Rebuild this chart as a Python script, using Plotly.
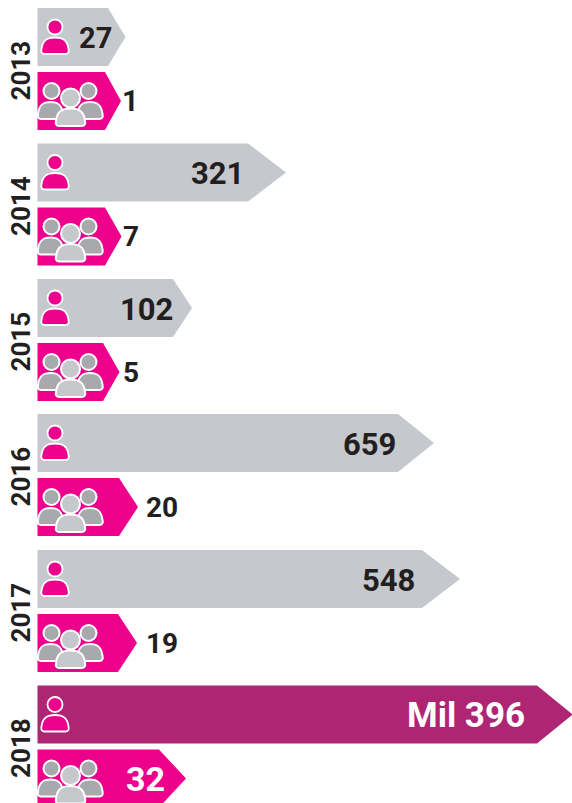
import plotly.graph_objects as go

years = ["2013", "2014", "2015", "2016", "2017", "2018"]
individual_labels = ["27", "321", "102", "659", "548", "Mil 396"]
group_labels = ["1", "7", "5", "20", "19", "32"]
# Drawn lengths (the original graphic is not to linear scale)
individual_tip = [125.5, 286, 192, 434, 460, 572.5]
individual_shoulder = [108, 248, 173, 398, 422, 537]
group_tip = [121, 121.5, 119.5, 138, 137, 186]
group_shoulder = [105, 105, 103, 119, 118, 159]
individual_text_x = [95, 217, 146, 369, 388, 466]
group_text_x = [130.5, 131, 131, 162, 162, 145]
individual_text_size = [29, 31, 31, 31, 31, 35]
group_text_size = [29, 28, 28, 28, 28, 34]

GREY, PINK, PURPLE = "#C5C8CC", "#EC008C", "#AE2573"
DARK, MID, LIGHT = "#231F20", "#A7A9AC", "#C6C8CC"
LEFT, H = 37.5, 58
TOPS = [8, 143.5, 279, 414, 550, 685.5]
GROUP_OFFSET = 64

fig = go.Figure()


def arrow(top, shoulder, tip, color):
    xs = [LEFT, shoulder, tip, shoulder, LEFT, LEFT]
    ys = [top, top, top + H / 2, top + H, top + H, top]
    fig.add_trace(go.Scatter(x=xs, y=ys, mode="lines", fill="toself", fillcolor=color,
                             line=dict(width=0, color=color), hoverinfo="skip", showlegend=False))


shapes = []


def circle(cx, cy, r, fill, lw=1.8):
    shapes.append(dict(type="circle", xref="x", yref="y", x0=cx - r, x1=cx + r, y0=cy - r, y1=cy + r,
                       fillcolor=fill, line=dict(color="white", width=lw)))


def body(cx, ytop, ybot, hw, fill, lw=1.8):
    x0, x1 = cx - hw, cx + hw
    path = (f"M {x0 + 3},{ybot} C {x0 - 0.5},{ybot} {x0 - 0.5},{ybot - 3} {x0},{ybot - 5} "
            f"C {x0 + 1},{ytop + 3} {cx - hw * 0.6},{ytop} {cx},{ytop} "
            f"C {cx + hw * 0.6},{ytop} {x1 - 1},{ytop + 3} {x1},{ybot - 5} "
            f"C {x1 + 0.5},{ybot - 3} {x1 + 0.5},{ybot} {x1 - 3},{ybot} Z")
    shapes.append(dict(type="path", xref="x", yref="y", path=path, fillcolor=fill,
                       line=dict(color="white", width=lw)))


def person(top):
    circle(55, top + 19, 7.5, PINK)
    body(55, top + 29.5, top + 46, 13.5, PINK)


def group(top):
    circle(51.5, top + 19, 8, MID, 2)
    circle(88.5, top + 19, 8, MID, 2)
    body(50.5, top + 30, top + 47, 12.5, MID, 2)
    body(90, top + 30, top + 47, 12.5, MID, 2)
    circle(70.5, top + 26, 9.5, LIGHT, 2)
    body(70.5, top + 36.5, top + 54, 14.5, LIGHT, 2)


annotations = []


def label(x, y, text, color, size=31, angle=0):
    annotations.append(dict(x=x, y=y, xref="x", yref="y", text=f"<b>{text}</b>", showarrow=False,
                            textangle=angle, xanchor="center", yanchor="middle",
                            font=dict(family="Roboto", size=size, color=color)))


for i, year in enumerate(years):
    top = TOPS[i]
    gtop = top + GROUP_OFFSET
    arrow(top, individual_shoulder[i], individual_tip[i], PURPLE if i == 5 else GREY)
    arrow(gtop, group_shoulder[i], group_tip[i], PINK)
    person(top)
    group(gtop)
    label(20.5, top + 63, year, DARK, size=26, angle=-90)
    white = i == 5
    label(individual_text_x[i], top + H / 2 + 1, individual_labels[i],
          "white" if white else DARK, size=individual_text_size[i])
    label(group_text_x[i], gtop + H / 2, group_labels[i],
          "white" if white else DARK, size=group_text_size[i])

fig.update_layout(
    width=572, height=803, margin=dict(l=0, r=0, t=0, b=0),
    paper_bgcolor="white", plot_bgcolor="white", showlegend=False,
    xaxis=dict(range=[0, 572], visible=False, fixedrange=True),
    yaxis=dict(range=[803, 0], visible=False, fixedrange=True),
    shapes=shapes, annotations=annotations,
)
fig.write_html("out.html", config=dict(displayModeBar=False),
               post_script="document.body.style.margin='0';document.body.style.overflow='hidden';")
